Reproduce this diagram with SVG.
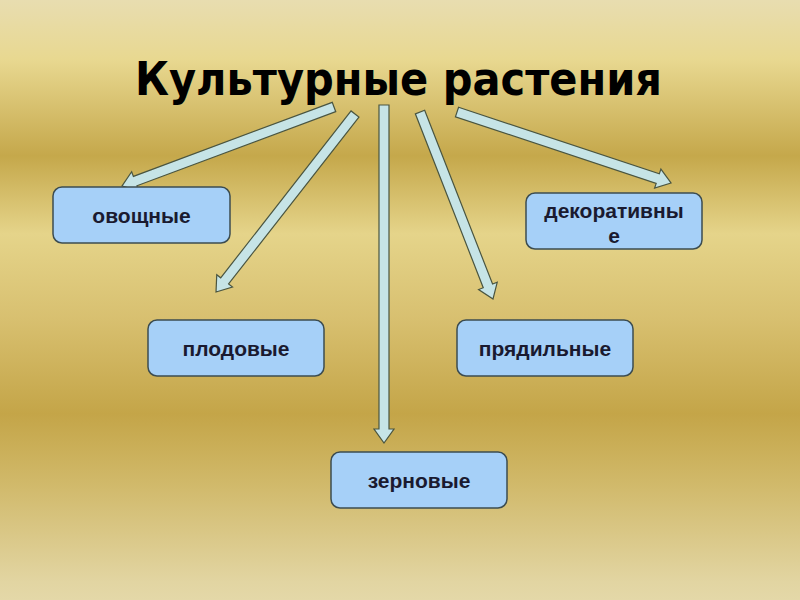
<svg xmlns="http://www.w3.org/2000/svg" width="800" height="600" viewBox="0 0 800 600">
<defs>
<linearGradient id="bg" x1="0" y1="0" x2="0" y2="1">
<stop offset="0" stop-color="#e8ddb0"/>
<stop offset="0.1" stop-color="#e8d890"/>
<stop offset="0.26" stop-color="#c5a84b"/>
<stop offset="0.39" stop-color="#e5d48a"/>
<stop offset="0.53" stop-color="#d8c070"/>
<stop offset="0.69" stop-color="#c4a548"/>
<stop offset="0.8" stop-color="#d0b868"/>
<stop offset="0.97" stop-color="#e2d5a2"/>
<stop offset="1" stop-color="#e4d8a8"/>
</linearGradient>
<style>
.box{fill:#a6d0f8;stroke:#3c4c50;stroke-width:1.5}
.lbl{font-family:"Liberation Sans",Arial,sans-serif;font-weight:bold;font-size:21px;fill:#1a1a30;text-anchor:middle}
.arr{fill:#c6e4e6;stroke:#4a5540;stroke-width:1.2;stroke-linejoin:miter}
.title{font-family:"Liberation Sans Narrow","DejaVu Sans Condensed","Liberation Sans",sans-serif;font-weight:bold;font-size:47px;fill:#000;text-anchor:middle}
</style>
</defs>
<rect width="800" height="600" fill="url(#bg)"/>
<text class="title" x="398.5" y="95" textLength="527" lengthAdjust="spacingAndGlyphs">Культурные растения</text>
<g id="connectors">
<polygon class="arr" transform="translate(334,107) rotate(159.56)" points="0,-5 212.2,-5 212.2,-10 226.2,0 212.2,10 212.2,5 0,5"/>
<polygon class="arr" transform="translate(355,114) rotate(127.99)" points="0,-5 211.8,-5 211.8,-10 225.8,0 211.8,10 211.8,5 0,5"/>
<polygon class="arr" transform="translate(384,105) rotate(90)" points="0,-5 324,-5 324,-10 338,0 324,10 324,5 0,5"/>
<polygon class="arr" transform="translate(420,112) rotate(68.67)" points="0,-5 186.7,-5 186.7,-10 200.7,0 186.7,10 186.7,5 0,5"/>
<polygon class="arr" transform="translate(457,112) rotate(18.35)" points="0,-5 211.5,-5 211.5,-10 225.5,0 211.5,10 211.5,5 0,5"/>
</g>
<g id="ovoshchnye">
<rect class="box" x="53" y="187" width="177" height="56" rx="9"/>
<text class="lbl" x="141.5" y="223">овощные</text>
</g>
<g id="plodovye">
<rect class="box" x="148" y="320" width="176" height="56" rx="9"/>
<text class="lbl" x="236" y="356">плодовые</text>
</g>
<g id="zernovye">
<rect class="box" x="331" y="452" width="176" height="56" rx="9"/>
<text class="lbl" x="419" y="488">зерновые</text>
</g>
<g id="pryadilnye">
<rect class="box" x="457" y="320" width="176" height="56" rx="9"/>
<text class="lbl" x="545" y="356">прядильные</text>
</g>
<g id="dekorativnye">
<rect class="box" x="526" y="193" width="176" height="56" rx="9"/>
<text class="lbl" x="614" y="218">декоративны</text>
<text class="lbl" x="614" y="243">е</text>
</g>
</svg>
